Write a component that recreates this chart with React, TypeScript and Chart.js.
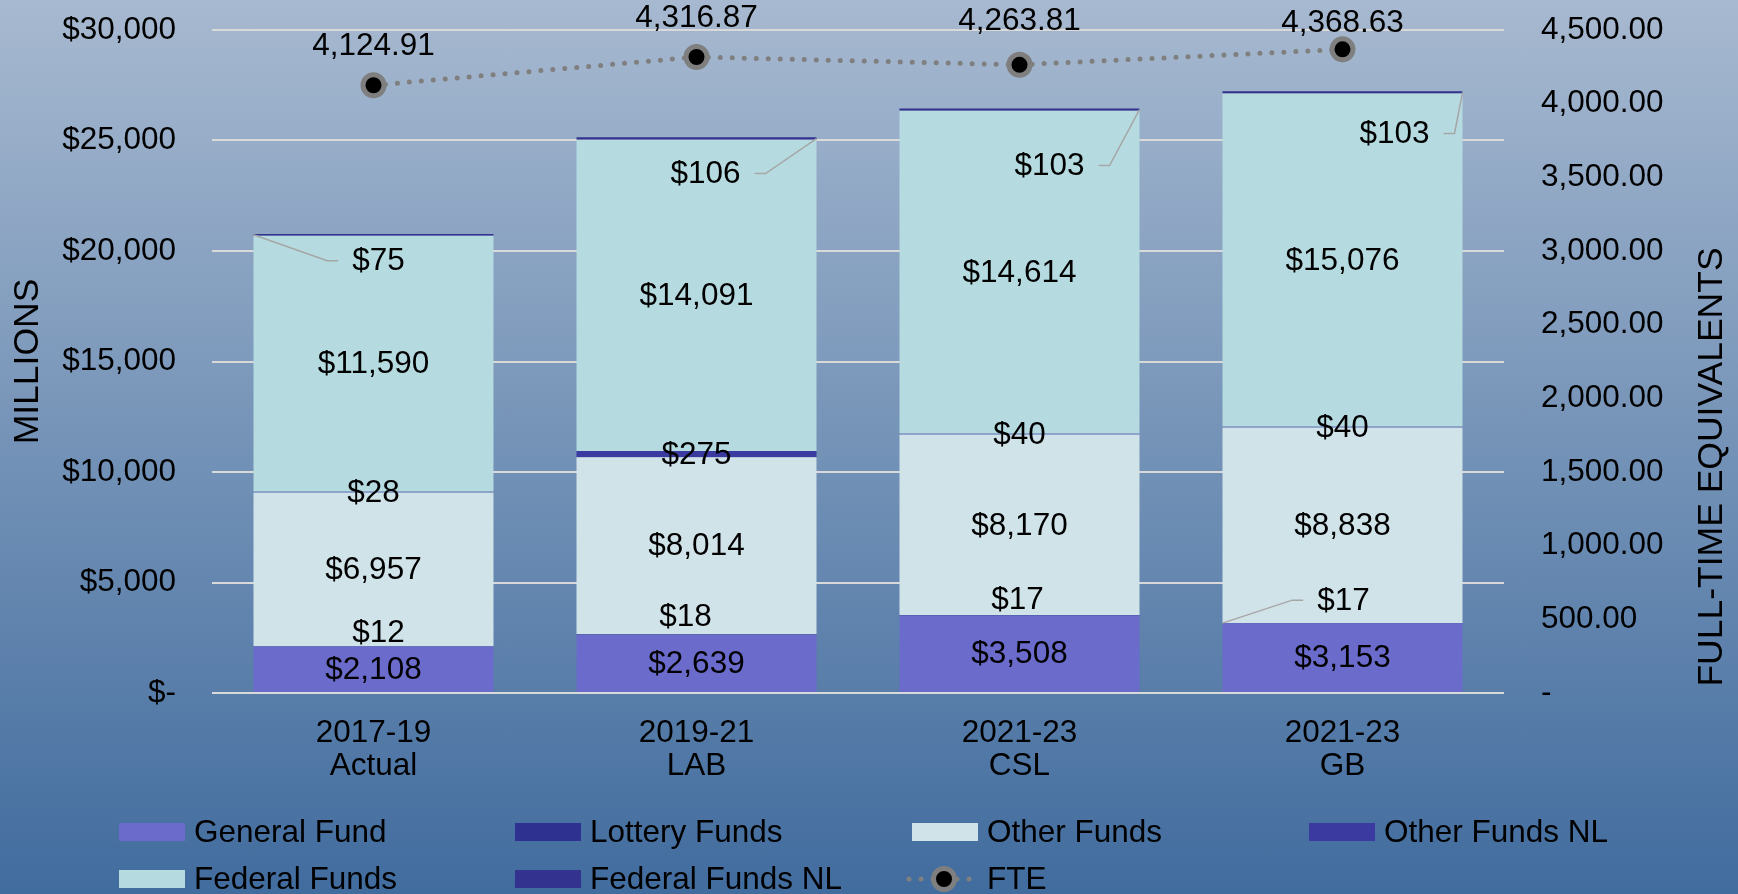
import React, { useEffect, useRef } from "react";
import { Chart, registerables } from "chart.js";

Chart.register(...registerables);

// ---------- data ----------
const categories: string[][] = [
  ["2017-19", "Actual"],
  ["2019-21", "LAB"],
  ["2021-23", "CSL"],
  ["2021-23", "GB"],
];
const generalFund = [2108, 2639, 3508, 3153];
const lotteryFunds = [12, 18, 17, 17];
const otherFunds = [6957, 8014, 8170, 8838];
const otherFundsNL = [28, 275, 40, 40];
const federalFunds = [11590, 14091, 14614, 15076];
const federalFundsNL = [75, 106, 103, 103];
const fte = [4124.91, 4316.87, 4263.81, 4368.63];

const moneyTicks = [0, 5000, 10000, 15000, 20000, 25000, 30000];
const fteTicks = [0, 500, 1000, 1500, 2000, 2500, 3000, 3500, 4000, 4500];
const rightTitle = "FULL-TIME EQUIVALENTS";

// ---------- styles ----------
const FONT = '"Liberation Sans", Arial, sans-serif';
const FS = 31.5;
const TITLE_FS = 35.5;
const colors = {
  general: "#6a6bcb",
  lottery: "#2f3190",
  other: "#d0e3e9",
  otherNL: "#3a3aa0",
  federal: "#b5dbe0",
  federalNL: "#33338f",
  fteLine: "#7f7f7f",
};

// label placement tweaks (dataset-category): offsets relative to segment centre
const labelPlacement: Record<string, { dx: number; dy: number; leader?: "left" | "right" }> = {
  "1-0": { dx: 5, dy: -14 },
  "1-1": { dx: -11, dy: -18 },
  "1-2": { dx: -2, dy: -16 },
  "1-3": { dx: 1, dy: -23, leader: "left" },
  "5-0": { dx: 5, dy: 26, leader: "left" },
  "5-1": { dx: 9, dy: 35, leader: "right" },
  "5-2": { dx: 30, dy: 56, leader: "right" },
  "5-3": { dx: 52, dy: 41, leader: "right" },
};
const fteLabelLift = [39, 39, 43, 26];

const money = (v: number) => "$" + v.toLocaleString("en-US");
const fteFmt = (v: number) =>
  v.toLocaleString("en-US", { minimumFractionDigits: 2, maximumFractionDigits: 2 });

const labelsPlugin = {
  id: "customLabels",
  afterDatasetsDraw(chart: any) {
    const ctx = chart.ctx as CanvasRenderingContext2D;
    ctx.save();
    ctx.font = `${FS}px ${FONT}`;
    ctx.fillStyle = "#000";
    ctx.textAlign = "center";
    ctx.textBaseline = "middle";
    chart.data.datasets.forEach((ds: any, i: number) => {
      const meta = chart.getDatasetMeta(i);
      if (ds.type === "line") {
        meta.data.forEach((pt: any, j: number) => {
          const { x, y } = pt.getProps(["x", "y"], true);
          ctx.fillText(fteFmt(ds.data[j]), x, y - fteLabelLift[j]);
        });
        return;
      }
      meta.data.forEach((bar: any, j: number) => {
        const { x, y, base, width } = bar.getProps(["x", "y", "base", "width"], true);
        const cy = (y + base) / 2;
        const p = labelPlacement[`${i}-${j}`] || { dx: 0, dy: 0 };
        const lx = x + p.dx;
        const ly = cy + p.dy;
        const text = money(ds.data[j]);
        ctx.fillStyle = "#000";
        ctx.fillText(text, lx, ly + 1);
        if (p.leader) {
          const w = ctx.measureText(text).width;
          const gap = 14;
          const stub = 11;
          ctx.save();
          ctx.strokeStyle = "#a6a6a6";
          ctx.lineWidth = 1.5;
          ctx.beginPath();
          if (p.leader === "left") {
            const sEnd = lx - w / 2 - gap;
            ctx.moveTo(sEnd, ly);
            ctx.lineTo(sEnd - stub, ly);
            ctx.lineTo(x - width / 2, cy);
          } else {
            const sStart = lx + w / 2 + gap;
            ctx.moveTo(sStart, ly);
            ctx.lineTo(sStart + stub, ly);
            ctx.lineTo(x + width / 2, cy);
          }
          ctx.stroke();
          ctx.restore();
        }
      });
    });
    ctx.restore();
  },
  afterDraw(chart: any) {
    const ctx = chart.ctx as CanvasRenderingContext2D;
    // right axis title (reads bottom to top)
    ctx.save();
    ctx.translate(1712, 467);
    ctx.rotate(-Math.PI / 2);
    ctx.font = `${TITLE_FS}px ${FONT}`;
    ctx.fillStyle = "#000";
    ctx.textAlign = "center";
    ctx.textBaseline = "middle";
    ctx.fillText(rightTitle, 0, 0);
    ctx.restore();

    const cols = [119, 515, 912, 1309];
    const rows = [832, 879];
    ctx.save();
    ctx.font = `${FS}px ${FONT}`;
    ctx.textBaseline = "middle";
    ctx.textAlign = "left";
    chart.data.datasets.forEach((ds: any, i: number) => {
      const cx = cols[i % 4];
      const cy = rows[Math.floor(i / 4)];
      if (ds.type === "line") {
        ctx.save();
        ctx.strokeStyle = ds.borderColor;
        ctx.lineWidth = 5;
        ctx.lineCap = "round";
        ctx.setLineDash([0, 12]);
        ctx.beginPath();
        ctx.moveTo(cx - 3, cy);
        ctx.lineTo(cx + 67, cy);
        ctx.stroke();
        ctx.setLineDash([]);
        ctx.beginPath();
        ctx.arc(cx + 32, cy, 10.5, 0, Math.PI * 2);
        ctx.fillStyle = "#000";
        ctx.fill();
        ctx.lineWidth = 5;
        ctx.strokeStyle = ds.pointBorderColor;
        ctx.stroke();
        ctx.restore();
      } else {
        ctx.fillStyle = ds.backgroundColor;
        ctx.fillRect(cx, cy - 9, 66, 18);
      }
      ctx.fillStyle = "#000";
      ctx.fillText(ds.label, cx + 75, cy + 1);
    });
    ctx.restore();
  },
};

export default function App() {
  const ref = useRef<HTMLCanvasElement | null>(null);

  useEffect(() => {
    document.body.style.margin = "0";
    if (!ref.current) return;
    const barDs = (label: string, data: number[], color: string) => ({
      type: "bar" as const,
      label,
      data,
      backgroundColor: color,
      borderWidth: 0,
      yAxisID: "y",
      order: 1,
      barPercentage: 0.743,
      categoryPercentage: 1,
    });
    const chart = new Chart(ref.current, {
      type: "bar",
      data: {
        labels: categories as any,
        datasets: [
          barDs("General Fund", generalFund, colors.general),
          barDs("Lottery Funds", lotteryFunds, colors.lottery),
          barDs("Other Funds", otherFunds, colors.other),
          barDs("Other Funds NL", otherFundsNL, colors.otherNL),
          barDs("Federal Funds", federalFunds, colors.federal),
          barDs("Federal Funds NL", federalFundsNL, colors.federalNL),
          {
            type: "line" as const,
            label: "FTE",
            data: fte,
            yAxisID: "y1",
            order: 0,
            borderColor: colors.fteLine,
            borderWidth: 5,
            borderDash: [0, 12],
            borderCapStyle: "round",
            tension: 0,
            pointRadius: 10.5,
            pointBorderWidth: 5,
            pointBackgroundColor: "#000",
            pointBorderColor: colors.fteLine,
          } as any,
        ],
      },
      options: {
        responsive: false,
        animation: false,
        layout: { padding: { top: 30, left: 0, right: 0, bottom: 101 } },
        plugins: {
          legend: { display: false },
          tooltip: { enabled: false },
        },
        scales: {
          x: {
            stacked: true,
            grid: { display: false, drawTicks: false },
            border: { display: false },
            ticks: {
              color: "#000",
              font: { family: FONT, size: FS, lineHeight: 1.05 },
              padding: 23.5,
              maxRotation: 0,
              autoSkip: false,
            },
            afterFit: (s: any) => {
              s.height = 100;
              s.paddingLeft = 0;
              s.paddingRight = 0;
            },
          },
          y: {
            stacked: true,
            position: "left",
            min: moneyTicks[0],
            max: moneyTicks[moneyTicks.length - 1],
            afterBuildTicks: (s: any) => {
              s.ticks = moneyTicks.map((v) => ({ value: v }));
            },
            grid: { color: "#d9d9d9", lineWidth: 2, drawTicks: false },
            border: { display: false },
            ticks: {
              color: "#000",
              font: { family: FONT, size: FS },
              padding: 36,
              callback: (v: any) => (Number(v) === 0 ? "$-" : money(Number(v))),
            },
            title: {
              display: true,
              text: "MILLIONS",
              color: "#000",
              font: { family: FONT, size: TITLE_FS },
              padding: { top: 6.5, bottom: 0 },
            },
            afterFit: (s: any) => {
              s.width = 212;
              s.paddingTop = 0;
              s.paddingBottom = 0;
            },
          },
          y1: {
            stacked: false,
            position: "right",
            min: fteTicks[0],
            max: fteTicks[fteTicks.length - 1],
            afterBuildTicks: (s: any) => {
              s.ticks = fteTicks.map((v) => ({ value: v }));
            },
            grid: { display: false, drawTicks: false },
            border: { display: false },
            ticks: {
              color: "#000",
              font: { family: FONT, size: FS },
              padding: 37,
              callback: (v: any) => (Number(v) === 0 ? "-" : fteFmt(Number(v))),
            },
            title: { display: false },
            afterFit: (s: any) => {
              s.width = 234;
              s.paddingTop = 0;
              s.paddingBottom = 0;
            },
          },
        },
      } as any,
      plugins: [labelsPlugin],
    });
    return () => chart.destroy();
  }, []);

  return (
    <div
      style={{
        width: 1738,
        height: 894,
        background: "linear-gradient(to bottom, #a7b9d0 0%, #416c9e 100%)",
      }}
    >
      <canvas ref={ref} width={1738} height={894} style={{ display: "block" }} />
    </div>
  );
}
